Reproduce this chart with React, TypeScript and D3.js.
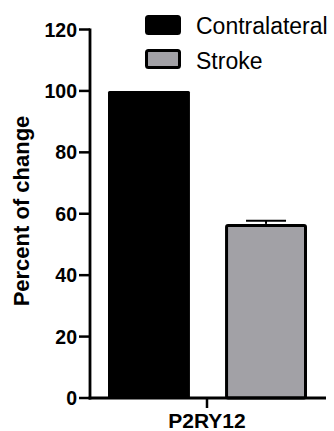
import React from 'react';
import * as d3 from 'd3';

// chart values
const categories = ['P2RY12'];
const seriesNames = ['Contralateral', 'Stroke'];
const seriesValues = [100, 56.7];
const seriesErrors = [0, 1.0];
const seriesColors = ['#000000', '#a2a1a6'];
const yTicks = [0, 20, 40, 60, 80, 100, 120];
const yLabel = 'Percent of change';

const W = 334;
const H = 431;
const font = '"Liberation Sans", Arial, sans-serif';

const App = () => {
    const y = d3.scaleLinear().domain([0, 120]).range([398, 29.5]);
    const xCat = d3.scaleBand().domain(categories).range([90, 326]);
    const xSeries = d3.scaleBand()
        .domain(seriesNames)
        .range([108, 307])
        .paddingInner(0.3)
        .paddingOuter(0);

    const catCenter = (xCat(categories[0]) ?? 0) + xCat.bandwidth() / 2 - 1;

    return (
        <svg width={W} height={H} style={{ position: 'absolute', left: 0, top: 0, background: '#fff' }}>
            {/* bars */}
            {seriesNames.map((s, i) => {
                const x0 = xSeries(s) ?? 0;
                const bw = xSeries.bandwidth();
                const sw = i === 0 ? 0 : 3;
                return (
                    <rect
                        key={s}
                        x={x0 + sw / 2}
                        y={y(seriesValues[i]) + sw / 2}
                        width={bw - sw}
                        height={y(0) - y(seriesValues[i]) - sw / 2}
                        fill={seriesColors[i]}
                        stroke="#000"
                        strokeWidth={sw}
                        rx={1.5}
                    />
                );
            })}
            {/* error bars (upper only) */}
            {seriesNames.map((s, i) => {
                if (!seriesErrors[i]) return null;
                const cx = (xSeries(s) ?? 0) + xSeries.bandwidth() / 2;
                const top = y(seriesValues[i] + seriesErrors[i]);
                return (
                    <g key={'e' + s} stroke="#000" strokeWidth={2}>
                        <line x1={cx} x2={cx} y1={y(seriesValues[i])} y2={top} />
                        <line x1={cx - 20} x2={cx + 20} y1={top} y2={top} />
                    </g>
                );
            })}
            {/* y axis */}
            <line x1={90} x2={90} y1={y(120) - 1} y2={y(0) + 1.5} stroke="#000" strokeWidth={2.8} />
            {yTicks.map(t => (
                <g key={t}>
                    <line x1={79} x2={90} y1={y(t)} y2={y(t)} stroke="#000" strokeWidth={2.5} />
                    <text
                        x={77}
                        y={y(t)}
                        dy="0.36em"
                        textAnchor="end"
                        fontFamily={font}
                        fontWeight="bold"
                        fontSize={19.5}
                    >
                        {t}
                    </text>
                </g>
            ))}
            <text
                transform={`translate(29, 211) rotate(-90)`}
                textAnchor="middle"
                fontFamily={font}
                fontWeight="bold"
                fontSize={22}
            >
                {yLabel}
            </text>
            {/* x axis */}
            <line x1={88.6} x2={326} y1={y(0)} y2={y(0)} stroke="#000" strokeWidth={2.8} />
            {categories.map(c => (
                <g key={c}>
                    <line x1={catCenter} x2={catCenter} y1={y(0)} y2={y(0) + 10} stroke="#000" strokeWidth={2.5} />
                    <text
                        x={catCenter}
                        y={428}
                        textAnchor="middle"
                        fontFamily={font}
                        fontWeight="bold"
                        fontSize={21}
                    >
                        {c}
                    </text>
                </g>
            ))}
            {/* legend */}
            {seriesNames.map((s, i) => {
                const ly = 15 + i * 34;
                return (
                    <g key={'l' + s}>
                        <rect
                            x={146.5}
                            y={ly + 1.5}
                            width={33}
                            height={17}
                            rx={2}
                            fill={seriesColors[i]}
                            stroke="#000"
                            strokeWidth={3}
                        />
                        <text
                            x={196}
                            y={ly + 19 + i * 0.5}
                            fontFamily={font}
                            fontSize={23}
                        >
                            {s}
                        </text>
                    </g>
                );
            })}
        </svg>
    );
};

export default App;
